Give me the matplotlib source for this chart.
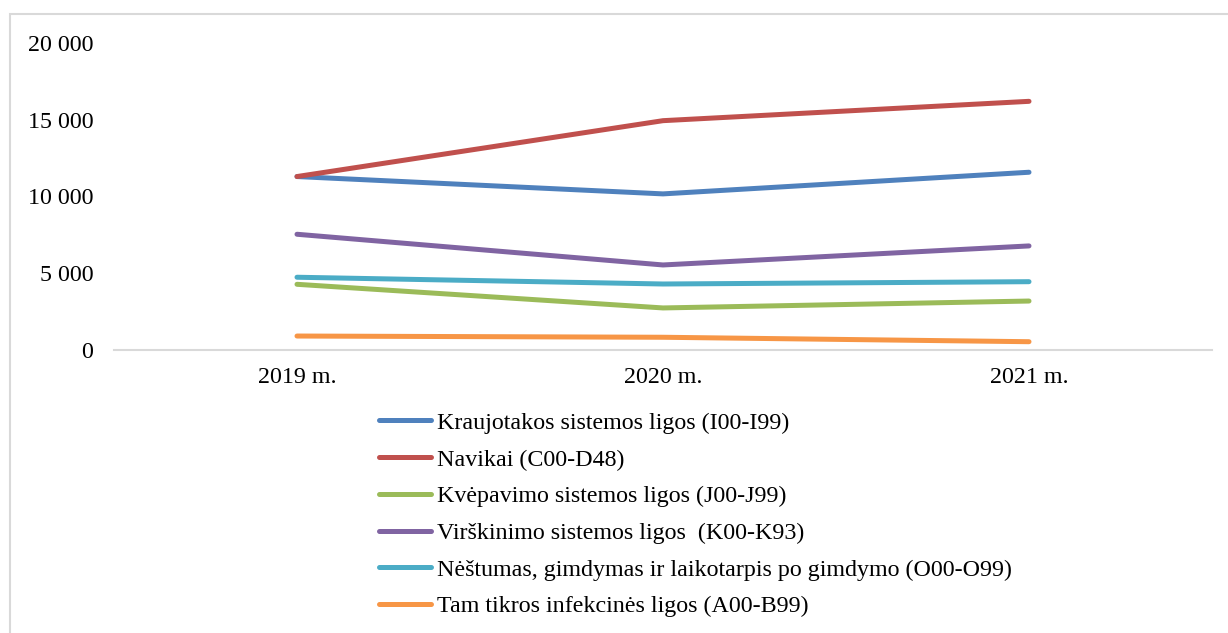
import matplotlib.pyplot as plt
from matplotlib.patches import Rectangle
from matplotlib.ticker import FuncFormatter

plt.rcParams["font.family"] = ["Liberation Serif", "DejaVu Serif"]

# data
years = ["2019 m.", "2020 m.", "2021 m."]
kraujotakos = [11300, 10170, 11580]
navikai = [11300, 14940, 16200]
kvepavimo = [4280, 2740, 3190]
virskinimo = [7540, 5540, 6780]
nestumas = [4740, 4300, 4450]
infekcines = [910, 830, 540]

labels = [
    "Kraujotakos sistemos ligos (I00-I99)",
    "Navikai (C00-D48)",
    "Kvėpavimo sistemos ligos (J00-J99)",
    "Virškinimo sistemos ligos  (K00-K93)",
    "Nėštumas, gimdymas ir laikotarpis po gimdymo (O00-O99)",
    "Tam tikros infekcinės ligos (A00-B99)",
]
colors = ["#4f81bd", "#c0504d", "#9bbb59", "#8064a2", "#4bacc6", "#f79646"]
series = [kraujotakos, navikai, kvepavimo, virskinimo, nestumas, infekcines]

W, H = 1228, 633
fig = plt.figure(figsize=(W / 100, H / 100), dpi=100)
ax = fig.add_axes([114 / W, 1 - 350 / H, 1098 / W, 307 / H])

x = range(len(years))
for vals, lab, col in zip(series, labels, colors):
    ax.plot(x, vals, color=col, linewidth=3.6, solid_capstyle="round",
            solid_joinstyle="round", label=lab)

ax.set_xlim(-0.5, 2.5)
ax.set_ylim(0, 20000)
ax.set_yticks([0, 5000, 10000, 15000, 20000])
ax.yaxis.set_major_formatter(FuncFormatter(lambda v, p: f"{int(v):,}".replace(",", " ")))
ax.set_xticks(list(x))
ax.set_xticklabels(years)
ax.tick_params(axis="both", length=0, labelsize=17.3)
ax.tick_params(axis="y", pad=15)
ax.tick_params(axis="x", pad=12)
for s in ["top", "right", "left"]:
    ax.spines[s].set_visible(False)
ax.spines["bottom"].set_color("#d9d9d9")
ax.spines["bottom"].set_linewidth(1.5)

# outer chart border
fig.patches.append(Rectangle((10 / W, -0.1), 1.2, 1.1 - 14 / H, transform=fig.transFigure,
                             fill=False, edgecolor="#d9d9d9", linewidth=1.5))

fig.legend(loc="upper left", bbox_to_anchor=(379 / W, 1 - 412 / H), frameon=False,
           fontsize=17.3, handlelength=2.15, handletextpad=0.25, labelspacing=0.62,
           borderpad=0, borderaxespad=0)

fig.savefig("out.png", dpi=100)
